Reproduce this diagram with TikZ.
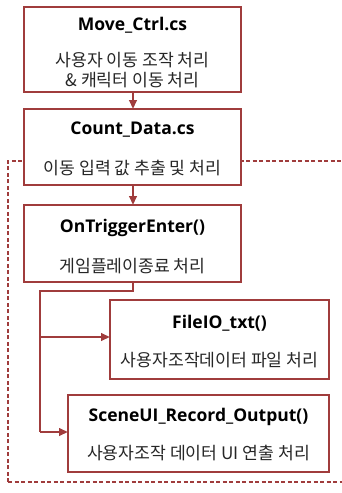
\documentclass[tikz,border=0pt]{standalone}
\usepackage{fontspec}
\setmainfont{Noto Sans CJK KR}
\newfontfamily\titlefont{Open Sans}
\usetikzlibrary{arrows.meta}
\definecolor{boxred}{HTML}{A03C3C}
\definecolor{subgray}{HTML}{262626}
\tikzset{
  px/.style={x=1pt,y=-1pt},
  stage/.style={draw=boxred,line width=2.3pt,fill=white},
  ttl/.style={font=\titlefont\bfseries\fontsize{17.5}{20}\selectfont,text=black},
  sub/.style={font=\fontsize{17.2}{19}\selectfont,text=subgray},
  flow/.style={draw=boxred,line width=2.3pt,-{Triangle[length=9pt,width=7.5pt]}},
  link/.style={draw=boxred,line width=2.3pt},
  region/.style={draw=boxred,line width=1.5pt,dash pattern=on 4pt off 2.5pt}
}
\begin{document}
\begin{tikzpicture}[px]
\useasboundingbox (0,0) rectangle (342,493);
% dashed region behind the lower stages
\draw[region] (8,482) -- (8,161) -- (350,161);
\draw[region] (8,482) -- (350,482);
% stage boxes
\path[stage] (24,7) rectangle (241,92);
\path[stage] (24,109) rectangle (241,185);
\path[stage] (24,205) rectangle (241,282);
\path[stage] (110,300) rectangle (329,379);
\path[stage] (68,395) rectangle (329,472);
% texts
\node[ttl] (t1) at (132.5,25) {Move\_Ctrl.cs};
\node[sub] (s1a) at (132.5,60) {사용자 이동 조작 처리};
\node[sub] (s1b) at (132.5,80) {\& 캐릭터 이동 처리};
\node[ttl] (t2) at (132.5,130) {Count\_Data.cs};
\node[sub] (s2) at (132.5,168) {이동 입력 값 추출 및 처리};
\node[ttl] (t3) at (132.5,228) {OnTriggerEnter()};
\node[sub] (s3) at (132.5,266) {게임플레이종료 처리};
\node[ttl] (t4) at (219.5,323) {FileIO\_txt()};
\node[sub] (s4) at (219.5,360) {사용자조작데이터 파일 처리};
\node[ttl] (t5) at (198.5,417) {SceneUI\_Record\_Output()};
\node[sub] (s5) at (198.5,453) {사용자조작 데이터 UI 연출 처리};
% anchors for the connectors
\coordinate (b1) at (133,92);
\coordinate (a2) at (133,109);
\coordinate (b2) at (133,185);
\coordinate (a3) at (133,205);
\coordinate (b3) at (133,282);
\coordinate (k1) at (133,291);
\coordinate (k2) at (40,291);
\coordinate (k3) at (40,432);
\coordinate (j4) at (40,337);
\coordinate (a4) at (110,337);
\coordinate (a5) at (68,432);
\draw[flow] (b1) -- (a2);
\draw[flow] (b2) -- (a3);
\draw[link] (b3) -- (k1) -- (k2) -- (k3);
\draw[flow] (j4) -- (a4);
\draw[flow] (k3) -- (a5);
\end{tikzpicture}
\end{document}
